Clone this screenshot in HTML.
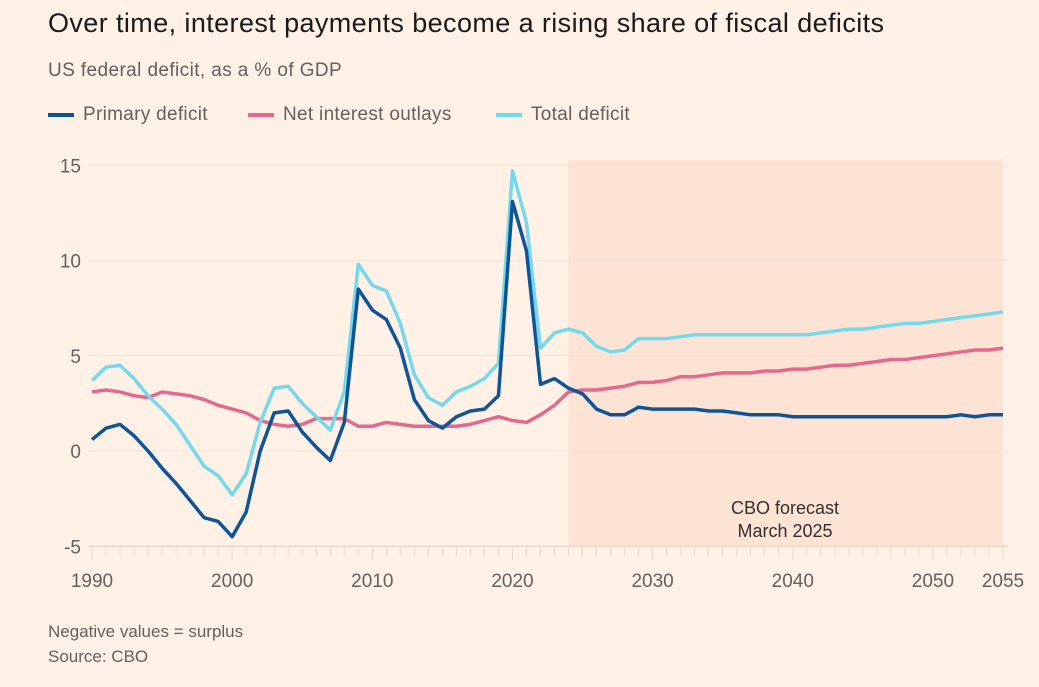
<!DOCTYPE html>
<html><head><meta charset="utf-8"><style>
body{margin:0;background:#fff1e5;font-family:"Liberation Sans",sans-serif;width:1039px;height:687px;overflow:hidden;position:relative}
.t{position:absolute;white-space:nowrap}
</style></head><body>
<div class="t" style="left:48px;top:8px;font-size:27px;letter-spacing:0.4px;color:#1a1a1a">Over time, interest payments become a rising share of fiscal deficits</div>
<div class="t" style="left:48px;top:60px;font-size:19px;letter-spacing:0.4px;color:#66605c">US federal deficit, as a % of GDP</div>
<div>
<div class="t" style="left:48px;top:104px;font-size:19px;letter-spacing:0.3px;color:#66605c"><span style="display:inline-block;width:26px;height:4px;background:#0f5499;vertical-align:middle;margin-right:9px"></span>Primary deficit</div>
<div class="t" style="left:248px;top:104px;font-size:19px;letter-spacing:0.3px;color:#66605c"><span style="display:inline-block;width:26px;height:4px;background:#e3698d;vertical-align:middle;margin-right:9px"></span>Net interest outlays</div>
<div class="t" style="left:496px;top:104px;font-size:19px;letter-spacing:0.3px;color:#66605c"><span style="display:inline-block;width:26px;height:4px;background:#74d9ec;vertical-align:middle;margin-right:9px"></span>Total deficit</div>
</div>
<svg id="chart" width="1039" height="687" style="position:absolute;left:0;top:0"></svg>
<div class="t" style="left:48px;top:622px;font-size:17px;color:#66605c">Negative values = surplus</div>
<div class="t" style="left:48px;top:647px;font-size:17px;color:#66605c">Source: CBO</div>
<script>
const years=[];for(let y=1990;y<=2055;y++)years.push(y);
const primary=[0.6,1.2,1.4,0.8,0,-0.9,-1.7,-2.6,-3.5,-3.7,-4.5,-3.2,0,2.0,2.1,1.0,0.2,-0.5,1.5,8.5,7.4,6.9,5.4,2.7,1.6,1.2,1.8,2.1,2.2,2.9,13.1,10.5,3.5,3.8,3.3,3.0,2.2,1.9,1.9,2.3,2.2,2.2,2.2,2.2,2.1,2.1,2.0,1.9,1.9,1.9,1.8,1.8,1.8,1.8,1.8,1.8,1.8,1.8,1.8,1.8,1.8,1.8,1.9,1.8,1.9,1.9];
const interest=[3.1,3.2,3.1,2.9,2.8,3.1,3.0,2.9,2.7,2.4,2.2,2.0,1.6,1.4,1.3,1.4,1.7,1.7,1.7,1.3,1.3,1.5,1.4,1.3,1.3,1.3,1.3,1.4,1.6,1.8,1.6,1.5,1.9,2.4,3.1,3.2,3.2,3.3,3.4,3.6,3.6,3.7,3.9,3.9,4.0,4.1,4.1,4.1,4.2,4.2,4.3,4.3,4.4,4.5,4.5,4.6,4.7,4.8,4.8,4.9,5.0,5.1,5.2,5.3,5.3,5.4];
const total=[3.7,4.4,4.5,3.8,2.9,2.2,1.4,0.3,-0.8,-1.3,-2.3,-1.2,1.5,3.3,3.4,2.5,1.8,1.1,3.1,9.8,8.7,8.4,6.7,4.0,2.8,2.4,3.1,3.4,3.8,4.6,14.7,12.0,5.4,6.2,6.4,6.2,5.5,5.2,5.3,5.9,5.9,5.9,6.0,6.1,6.1,6.1,6.1,6.1,6.1,6.1,6.1,6.1,6.2,6.3,6.4,6.4,6.5,6.6,6.7,6.7,6.8,6.9,7.0,7.1,7.2,7.3];
const yTicks=[15,10,5,0,-5];
const xLabels=[1990,2000,2010,2020,2030,2040,2050,2055];
const forecastStart=2024;
const X=y=>92+(y-1990)*(1003-92)/65, Y=v=>451-v*19.05;
const svg=document.getElementById('chart'),NS='http://www.w3.org/2000/svg';
function mk(t,a){const e=document.createElementNS(NS,t);for(const k in a)e.setAttribute(k,a[k]);svg.appendChild(e);return e;}
let r=mk('rect',{x:X(forecastStart),y:Y(15.3),width:X(2055)-X(forecastStart),height:Y(-5)-Y(15.3),fill:'#fce3d4'});


yTicks.forEach(v=>{
 let g=mk('line',{x1:88,x2:1008,y1:Y(v),y2:Y(v),stroke:v===-5?'#e6d9ce':'#f3e2d6','stroke-width':v===-5?1.5:1});
 
 
 let t=mk('text',{x:81,y:Y(v)+7,fill:'#66605c','font-size':19,'font-family':'Liberation Sans','text-anchor':'end'});t.textContent=v;
 
 
});
years.forEach(y=>{const big=y%10===0||y===2055;
 let l=mk('line',{x1:X(y),x2:X(y),y1:Y(-5),y2:Y(-5)+(big?14:10),stroke:'#e6d9ce','stroke-width':1});
 
 
});
xLabels.forEach(y=>{
 let t=mk('text',{x:X(y),y:587,fill:'#66605c','font-size':19,'font-family':'Liberation Sans','text-anchor':'middle'});t.textContent=y;
 
 
});
[['CBO forecast',514],['March 2025',537]].forEach(([s,yy])=>{
 let t=mk('text',{x:785,y:yy,fill:'#33302e','font-size':18,'font-family':'Liberation Sans','text-anchor':'middle'});t.textContent=s;
 
 
});
[[interest,'#e3698d','interest-line'],[total,'#74d9ec','total-deficit-line'],[primary,'#0f5499','primary-deficit-line']].forEach(([d,c,n])=>{
 let p=mk('polyline',{points:d.map((v,i)=>X(years[i])+','+Y(v)).join(' '),fill:'none',stroke:c,'stroke-width':3.5,'stroke-linejoin':'round'});
 
 
});
</script>
</body></html>
